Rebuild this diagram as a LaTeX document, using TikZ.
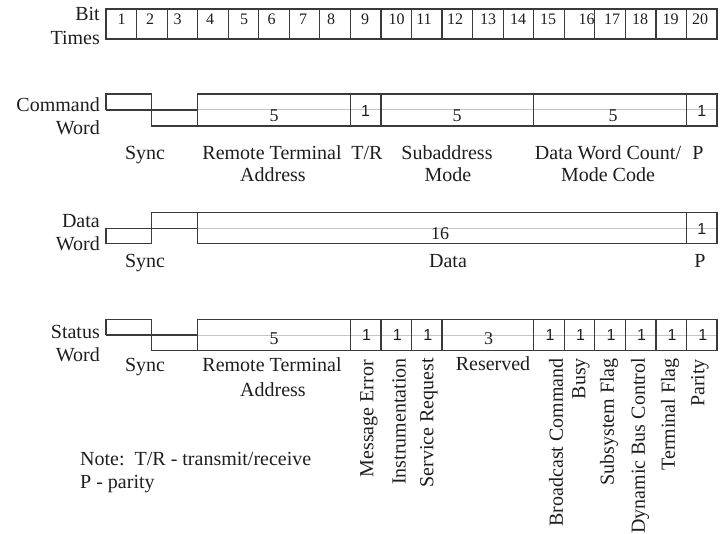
\documentclass[tikz,border=0pt]{standalone}
\usepackage{fontspec}
\setmainfont{Liberation Serif}
\newfontfamily\sansf{Liberation Sans}
\definecolor{ln}{HTML}{3A3A3A}
\definecolor{midc}{HTML}{C4C4C4}
\definecolor{tx}{HTML}{1E1E1E}
\begin{document}
\begin{tikzpicture}[x=1pt,y=-1pt,
  wave/.style={draw=ln,line width=1.2pt,line join=miter},
  midl/.style={draw=midc,line width=1pt},
  lbl/.style={inner sep=0pt,anchor=base,font=\fontsize{20}{23}\selectfont,text=tx},
  rlbl/.style={lbl,anchor=base east},
  numb/.style={inner sep=0pt,anchor=base,font=\fontsize{18}{20}\selectfont,text=tx},
  onef/.style={inner sep=0pt,anchor=base,font=\sansf\fontsize{16}{18}\selectfont,text=tx},
  bitn/.style={inner sep=0pt,anchor=base,font=\fontsize{16}{18}\selectfont,text=tx},
  vlab/.style={inner sep=0pt,rotate=90,anchor=east,font=\fontsize{20}{23}\selectfont,text=tx}]
\useasboundingbox (0,0) rectangle (727,534);

% ---------- Bit times ----------
\node[rlbl] (bit) at (100,20.7) {Bit};
\node[rlbl] (times) at (100,45) {Times};
\draw[wave] (106,9) rectangle (717,39);
\foreach \k in {2,...,20} \draw[wave] ({106+(\k-1)*30.55},9) -- ++(0,30);
\foreach \k/\xx in {1/121.7,2/150,3/177.7,4/210,5/244,6/271.7,7/303,8/331,9/365,10/396.7,11/424,12/455,13/488,14/518,15/548,16/586.7,17/612,18/640,19/670.7,20/700}
  \node[bitn] (bn\k) at (\xx,25) {\k};

% ---------- Command word ----------
\node[rlbl] (cw1) at (100,111.7) {Command};
\node[rlbl] (cw2) at (100,135) {Word};
\draw[midl] (197.65,110) -- (717,110);
\draw[wave] (106,110) -- (106,94) -- (151.8,94) -- (151.8,126) -- (197.65,126);
\draw[wave] (106,110) -- (197.65,110);
\draw[wave] (197.65,94) rectangle (717,126);
\foreach \xx in {350.4,380.95,533.7,686.45} \draw[wave] (\xx,94) -- (\xx,126);
\node[numb] (c5a) at (274,121.7) {5};
\node[onef] (c1a) at (365.5,116.7) {1};
\node[numb] (c5b) at (457,121.7) {5};
\node[numb] (c5c) at (613,121.7) {5};
\node[onef] (c1b) at (701.7,116.7) {1};
\node[lbl] (csync) at (145,159.3) {Sync};
\node[lbl] (crt) at (272,159.3) {Remote Terminal};
\node[lbl] (cad) at (273,181.7) {Address};
\node[lbl] (ctr) at (367,159.3) {T/R};
\node[lbl] (csub) at (447,159.3) {Subaddress};
\node[lbl] (cmode) at (448,181.7) {Mode};
\node[lbl] (cdwc) at (608,159.3) {Data Word Count/};
\node[lbl] (cmc) at (608,181.7) {Mode Code};
\node[lbl] (cp) at (698,159.3) {P};

% ---------- Data word ----------
\node[rlbl] (dw1) at (100,227.3) {Data};
\node[rlbl] (dw2) at (100,251) {Word};
\draw[midl] (197.65,228.3) -- (717,228.3);
\draw[wave] (106,228.3) -- (106,243.3) -- (151.8,243.3) -- (151.8,212.7) -- (197.65,212.7);
\draw[wave] (106,228.3) -- (197.65,228.3);
\draw[wave] (197.65,212.7) rectangle (717,243.3);
\draw[wave] (686.45,212.7) -- (686.45,243.3);
\node[numb] (d16) at (440,240) {16};
\node[onef] (d1) at (701.7,234.3) {1};
\node[lbl] (dsync) at (145,267.7) {Sync};
\node[lbl] (ddata) at (448,267.7) {Data};
\node[lbl] (dp) at (700,267.7) {P};

% ---------- Status word ----------
\node[rlbl] (sw1) at (100,338.3) {Status};
\node[rlbl] (sw2) at (100,361.7) {Word};
\draw[midl] (197.65,335) -- (717,335);
\draw[wave] (106,335) -- (106,319.3) -- (151.8,319.3) -- (151.8,350.5) -- (197.65,350.5);
\draw[wave] (106,335) -- (197.65,335);
\draw[wave] (197.65,319.3) rectangle (717,350.5);
\foreach \k in {9,10,11,12,15,16,17,18,19,20} \draw[wave] ({106+(\k-1)*30.55},319.3) -- ++(0,31.2);
\node[numb] (s5) at (274,344) {5};
\foreach \k in {9,10,11,15,16,17,18,19,20}
  \node[onef] (s1\k) at ({106+(\k-0.5)*30.55+1},340) {1};
\node[numb] (s3) at (488.5,344) {3};
\node[lbl] (ssync) at (145,371.7) {Sync};
\node[lbl] (srt) at (272,371.7) {Remote Terminal};
\node[lbl] (sad) at (273,396.7) {Address};
\node[lbl] (sres) at (493,370.7) {Reserved};
\node[vlab] (vme) at (369,360) {Message Error};
\node[vlab] (vin) at (399,358) {Instrumentation};
\node[vlab] (vsr) at (429,358) {Service Request};
\node[vlab] (vbc) at (556,358) {Broadcast Command};
\node[vlab] (vbu) at (581,358) {Busy};
\node[vlab] (vsf) at (609,358) {Subsystem Flag};
\node[vlab] (vdb) at (640,358) {Dynamic Bus Control};
\node[vlab] (vtf) at (670,358) {Terminal Flag};
\node[vlab] (vpa) at (700,359) {Parity};

% ---------- Note ----------
\node[lbl,anchor=base west] (note1) at (80,465) {Note:\ \ T/R - transmit/receive};
\node[lbl,anchor=base west] (note2) at (80,488.3) {P - parity};
\end{tikzpicture}
\end{document}
